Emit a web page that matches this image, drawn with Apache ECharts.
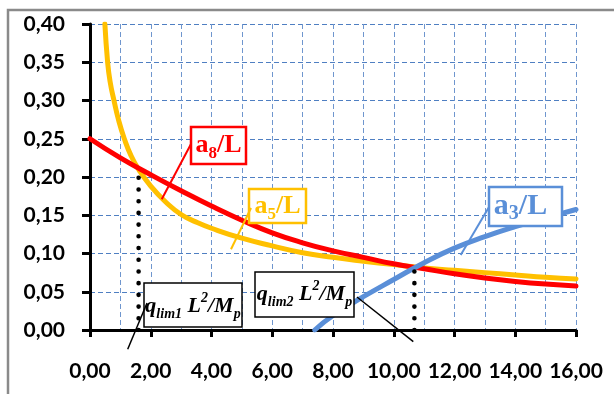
<!DOCTYPE html>
<html>
<head>
<meta charset="utf-8">
<script src="https://cdn.jsdelivr.net/npm/echarts@6/dist/echarts.min.js"></script>
<style>
  html, body { margin: 0; padding: 0; background: #fff; }
  #chart { width: 614px; height: 394px; }
</style>
</head>
<body>
<div id="chart"></div>
<script>
// a8/L
const redX = [0, 1, 2, 3, 4, 5, 6, 7, 8, 9, 10, 11, 12, 13, 14, 15, 16];
const redY = [0.250, 0.225, 0.203, 0.182, 0.162, 0.1435, 0.127, 0.114, 0.1035, 0.095, 0.0865, 0.080, 0.0735, 0.068, 0.0635, 0.060, 0.0575];

// a5/L
const yellowX = [0.49, 0.58, 0.66, 0.79, 0.95, 1.13, 1.35, 1.6, 2, 2.5, 3, 3.5, 4, 5, 6, 7, 8, 9, 10, 11, 12, 13, 14, 15, 16];
const yellowY = [0.40, 0.35, 0.325, 0.30, 0.273, 0.25, 0.228, 0.21, 0.188, 0.167, 0.151, 0.141, 0.133, 0.120, 0.110, 0.101, 0.095, 0.090, 0.0855, 0.081, 0.078, 0.075, 0.072, 0.069, 0.0667];

// a3/L
const blueX = [7.4, 8, 9, 10, 11, 12, 13, 14, 15, 16];
const blueY = [0, 0.019, 0.0435, 0.066, 0.088, 0.107, 0.122, 0.135, 0.1465, 0.1575];

// limit loads (intersections), dropped to the x axis
const dropX = [1.6, 10.68];
const dropY = [0.209, 0.0815];

const xTickLabels = ['0,00', '2,00', '4,00', '6,00', '8,00', '10,00', '12,00', '14,00', '16,00'];
const yTickLabels = ['0,00', '0,05', '0,10', '0,15', '0,20', '0,25', '0,30', '0,35', '0,40'];

function pairs(xs, ys) { return xs.map((x, i) => [x, ys[i]]); }

const chart = echarts.init(document.getElementById('chart'), null, { renderer: 'canvas' });

const labelFont = { fontFamily: 'Lato', fontWeight: 'bold', fontSize: 21, color: '#000' };
const gridH = { type: [5, 3], width: 1, color: '#4F7FC2' };
const gridV = { type: [5, 3], width: 1, color: '#6F96CE' };

function curve(name, xs, ys, color, z) {
  return {
    name, type: 'line', data: pairs(xs, ys), symbol: 'none', showSymbol: false,
    smooth: 0.5, z,
    lineStyle: { color, width: 5, cap: 'round' }
  };
}

const dropSeries = dropX.map((x, i) => ({
  name: 'drop' + i, type: 'line', symbol: 'none', showSymbol: false, z: 6,
  data: [[x, 0], [x, dropY[i]]],
  lineStyle: { color: '#000', width: 4.6, type: [0.01, 11.7], cap: 'round' }
}));

chart.setOption({
  animation: false,
  backgroundColor: '#fff',
  grid: { left: 90, right: 38, top: 24, bottom: 64 },
  xAxis: {
    type: 'value', min: 0, max: 16, interval: 2,
    axisLine: { show: true, onZero: false, lineStyle: { color: '#000', width: 3 } },
    axisTick: { show: true, length: 7, lineStyle: { color: '#000', width: 3 } },
    minorTick: { show: false, splitNumber: 2 },
    splitLine: { show: true, lineStyle: gridV },
    minorSplitLine: { show: true, lineStyle: gridV },
    axisLabel: Object.assign({}, labelFont, {
      margin: 31,
      formatter: v => xTickLabels[Math.round(v / 2)]
    })
  },
  yAxis: {
    type: 'value', min: 0, max: 0.4, interval: 0.05,
    axisLine: { show: true, lineStyle: { color: '#000', width: 3 } },
    axisTick: { show: true, length: 8, lineStyle: { color: '#000', width: 3 } },
    splitLine: { show: true, lineStyle: gridH },
    axisLabel: Object.assign({}, labelFont, {
      margin: 25,
      formatter: v => yTickLabels[Math.round(v / 0.05)]
    })
  },
  series: [
    curve('a5/L', yellowX, yellowY, '#FFC000', 3),
    curve('a8/L', redX, redY, '#FF0000', 4),
    curve('a3/L', blueX, blueY, '#5A8FD8', 5)
  ].concat(dropSeries)
});

// Callout boxes: top-left corner and leader tip in data units, box size in px
const serif = 'Liberation Serif';
function curveRich(color, size, subSize) {
  return {
    m: { fill: color, fontFamily: serif, fontWeight: 'bold', fontSize: size, lineHeight: 34, verticalAlign: 'middle' },
    s: { fill: color, fontFamily: serif, fontWeight: 'bold', fontSize: subSize, lineHeight: subSize, verticalAlign: 'bottom' }
  };
}
function loadRich() {
  return {
    m: { fill: '#000', fontFamily: serif, fontWeight: 'bold', fontStyle: 'italic', fontSize: 22, lineHeight: 30, verticalAlign: 'middle' },
    s: { fill: '#000', fontFamily: serif, fontWeight: 'bold', fontStyle: 'italic', fontSize: 14, lineHeight: 13, verticalAlign: 'bottom' },
    u: { fill: '#000', fontFamily: serif, fontWeight: 'bold', fontStyle: 'italic', fontSize: 14, lineHeight: 13, verticalAlign: 'top' }
  };
}

const callouts = [
  { box: [3.325, 0.2654], w: 55, h: 37, color: '#FF0000', lw: 2.5, from: [0, 17], tip: [2.361, 0.1708], leaderW: 2,
    text: '{m|a}{s|8}{m|/L}', rich: curveRich('#FF0000', 26, 17), dx: 0, dy: 0 },
  { box: [5.235, 0.1843], w: 57, h: 34, color: '#FFC000', lw: 2.5, from: [2, 19], tip: [4.642, 0.1055], leaderW: 2,
    text: '{m|a}{s|5}{m|/L}', rich: curveRich('#FFC000', 26, 17), dx: 0, dy: 0 },
  { box: [13.136, 0.1869], w: 73, h: 39, color: '#5A8FD8', lw: 2.5, from: [0, 20], tip: [12.204, 0.098], leaderW: 2,
    text: '{m|a}{s|3}{m|/L}', rich: curveRich('#5A8FD8', 30, 20), dx: -5, dy: 0 },
  { box: [1.778, 0.0614], w: 98, h: 44, color: '#000', lw: 1.5, from: [3, 20], tip: [1.241, -0.0252], leaderW: 1.5,
    text: '{m|q}{s|lim1}{m| L}{u|2}{m|/M}{s|p}', rich: loadRich(), dx: 0, dy: 1 },
  { box: [5.432, 0.0758], w: 99, h: 45, color: '#000', lw: 1.5, from: [102, 25], tip: [10.644, -0.0153], leaderW: 1.5,
    text: '{m|q}{s|lim2}{m| L}{u|2}{m|/M}{s|p}', rich: loadRich(), dx: 0, dy: 0 }
];

const toPx = p => chart.convertToPixel({ xAxisIndex: 0, yAxisIndex: 0 }, p);
const graphics = [{
  type: 'rect', z: 50, silent: true,
  shape: { x: 8, y: 10, width: 800, height: 600 },
  style: { fill: 'none', stroke: '#8A8A8A', lineWidth: 2.5 }
}];
callouts.forEach(c => {
  const [bx, by] = toPx(c.box);
  const [tx, ty] = toPx(c.tip);
  graphics.push({
    type: 'rect', z: 100, silent: true,
    shape: { x: Math.round(bx), y: Math.round(by), width: c.w, height: c.h },
    style: { fill: '#fff', stroke: c.color, lineWidth: c.lw }
  });
  graphics.push({
    type: 'line', z: 101, silent: true,
    shape: { x1: bx + c.from[0], y1: by + c.from[1], x2: tx, y2: ty },
    style: { stroke: c.color, lineWidth: c.leaderW }
  });
  graphics.push({
    type: 'text', z: 102, silent: true,
    x: bx + c.w / 2 + c.dx, y: by + c.h / 2 + c.dy,
    style: { text: c.text, rich: c.rich, align: 'center', verticalAlign: 'middle' }
  });
});
chart.setOption({ graphic: graphics });
</script>
</body>
</html>
